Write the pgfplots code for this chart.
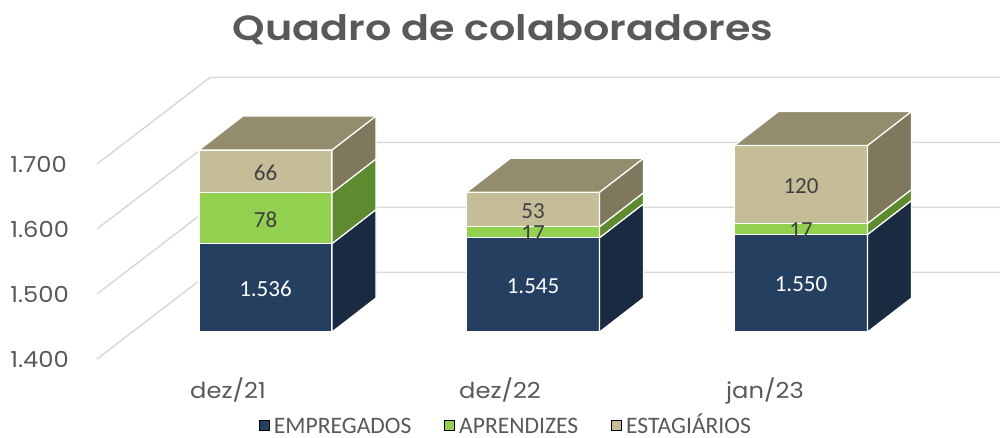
\documentclass[border=0pt]{standalone}
\usepackage{fontspec}
\setmainfont{Carlito}
\newfontfamily\gothic{Poppins}[FakeStretch=1.1]
\newfontfamily\gothictitle{Poppins}[FakeStretch=1.18, BoldFont={Poppins SemiBold}]
\usepackage{pgfplots}
\pgfplotsset{compat=1.18}
\definecolor{emp}{HTML}{243F60}
\definecolor{empS}{HTML}{1A2A40}
\definecolor{apr}{HTML}{92D050}
\definecolor{aprS}{HTML}{5E8A30}
\definecolor{est}{HTML}{C4BD97}
\definecolor{estS}{HTML}{7F785C}
\definecolor{estT}{HTML}{938C6D}
\definecolor{gridc}{HTML}{D9D9D9}
\definecolor{txt}{HTML}{595959}
\definecolor{lbl}{HTML}{404040}
\pgfplotsset{base/.style={scale only axis, width=500pt, xmin=0, xmax=1000, anchor=south west},
  face/.style={draw=white, line width=0.6pt}}
\begin{document}
\begin{tikzpicture}
% background: walls / gridlines, tick labels, title, legend
\begin{axis}[base, at={(0,0)}, height=217pt, ymin=1284.615, ymax=1952.308,
  axis line style={draw=none}, tick style={draw=none}, major tick length=0pt,
  ytick={1400,1500,1600,1700}, yticklabels={1.400,1.500,1.600,1.700},
  yticklabel style={anchor=west, xshift=5pt, inner sep=0pt, font=\gothic\fontsize{11}{13}\selectfont, text=txt},
  xtick={228,500,765}, xticklabels={dez/21,dez/22,jan/23},
  xticklabel style={anchor=base, yshift=18pt, inner sep=0pt, font=\gothic\fontsize{11}{13}\selectfont, text=txt},
  title={Quadro de colaboradores},
  title style={at={(0.503,0.878)}, anchor=base, inner sep=0pt, font=\gothictitle\bfseries\fontsize{17.5}{20}\selectfont, text=txt},
  legend style={at={(0.507,0.019)}, anchor=center, draw=none, fill=none, legend columns=3,
    font=\fontsize{11.8}{13}\selectfont, text=txt, inner sep=0pt,
    nodes={text height=7.5pt, text depth=0pt},
    /tikz/every even column/.append style={column sep=14.5pt}},
  legend image code/.code={\fill[#1] (0pt,-2.5pt) rectangle (5pt,2.5pt);},
]
\addplot[gridc, line width=0.75pt, forget plot] coordinates {(97,1400) (210,1533.08) (1000,1533.08)};
\addplot[gridc, line width=0.75pt, forget plot] coordinates {(97,1500) (210,1633.08) (1000,1633.08)};
\addplot[gridc, line width=0.75pt, forget plot] coordinates {(97,1600) (210,1733.08) (1000,1733.08)};
\addplot[gridc, line width=0.75pt, forget plot] coordinates {(97,1700) (210,1833.08) (1000,1833.08)};
\addlegendimage{fill=emp}
\addlegendentry{EMPREGADOS}
\addlegendimage{fill=apr}
\addlegendentry{APRENDIZES}
\addlegendimage{fill=est}
\addlegendentry{ESTAGIÁRIOS}
\end{axis}
% front faces of the stacked bars
\begin{axis}[base, at={(0,51pt)}, height=166pt, ymin=1400, ymax=1910.769, hide axis,
  ybar stacked, bar width=66.5pt]
\addplot[fill=emp, face] coordinates {(265.5,1536) (533,1545) (801,1550)};
\addplot[fill=apr, face] coordinates {(265.5,78) (533,17) (801,17)};
\addplot[fill=est, face] coordinates {(265.5,66) (533,53) (801,120)};
\end{axis}
% side and top faces, data labels
\begin{axis}[base, at={(0,51pt)}, height=166pt, ymin=1400, ymax=1910.769, hide axis]
% dez/21
\addplot[fill=empS, face] coordinates {(332,1400) (376,1452.31) (376,1588.31) (332,1536)} -- cycle;
\addplot[fill=aprS, face] coordinates {(332,1536) (376,1588.31) (376,1666.31) (332,1614)} -- cycle;
\addplot[fill=estS, face] coordinates {(332,1614) (376,1666.31) (376,1732.31) (332,1680)} -- cycle;
\addplot[fill=estT, face] coordinates {(199,1680) (332,1680) (376,1732.31) (243,1732.31)} -- cycle;
% dez/22
\addplot[fill=empS, face] coordinates {(599.5,1400) (643.5,1452.31) (643.5,1597.31) (599.5,1545)} -- cycle;
\addplot[fill=aprS, face] coordinates {(599.5,1545) (643.5,1597.31) (643.5,1614.31) (599.5,1562)} -- cycle;
\addplot[fill=estS, face] coordinates {(599.5,1562) (643.5,1614.31) (643.5,1667.31) (599.5,1615)} -- cycle;
\addplot[fill=estT, face] coordinates {(466.5,1615) (599.5,1615) (643.5,1667.31) (510.5,1667.31)} -- cycle;
% jan/23
\addplot[fill=empS, face] coordinates {(867.5,1400) (911.5,1452.31) (911.5,1602.31) (867.5,1550)} -- cycle;
\addplot[fill=aprS, face] coordinates {(867.5,1550) (911.5,1602.31) (911.5,1619.31) (867.5,1567)} -- cycle;
\addplot[fill=estS, face] coordinates {(867.5,1567) (911.5,1619.31) (911.5,1739.31) (867.5,1687)} -- cycle;
\addplot[fill=estT, face] coordinates {(734.5,1687) (867.5,1687) (911.5,1739.31) (778.5,1739.31)} -- cycle;
% labels
\addplot[draw=none, mark=none, nodes near coords, point meta=explicit symbolic,
  every node near coord/.append style={anchor=center, inner sep=0pt, font=\fontsize{11.5}{13}\selectfont, text=white}]
  coordinates {(265.5,1466)[1.536] (533,1470)[1.545] (801,1473)[1.550]};
\addplot[draw=none, mark=none, nodes near coords, point meta=explicit symbolic,
  every node near coord/.append style={anchor=center, inner sep=0pt, font=\fontsize{11.5}{13}\selectfont, text=lbl}]
  coordinates {(265.5,1573)[78] (265.5,1645)[66] (533,1552)[17] (533,1586)[53] (801,1557)[17] (801,1624)[120]};
\end{axis}
\end{tikzpicture}
\end{document}
